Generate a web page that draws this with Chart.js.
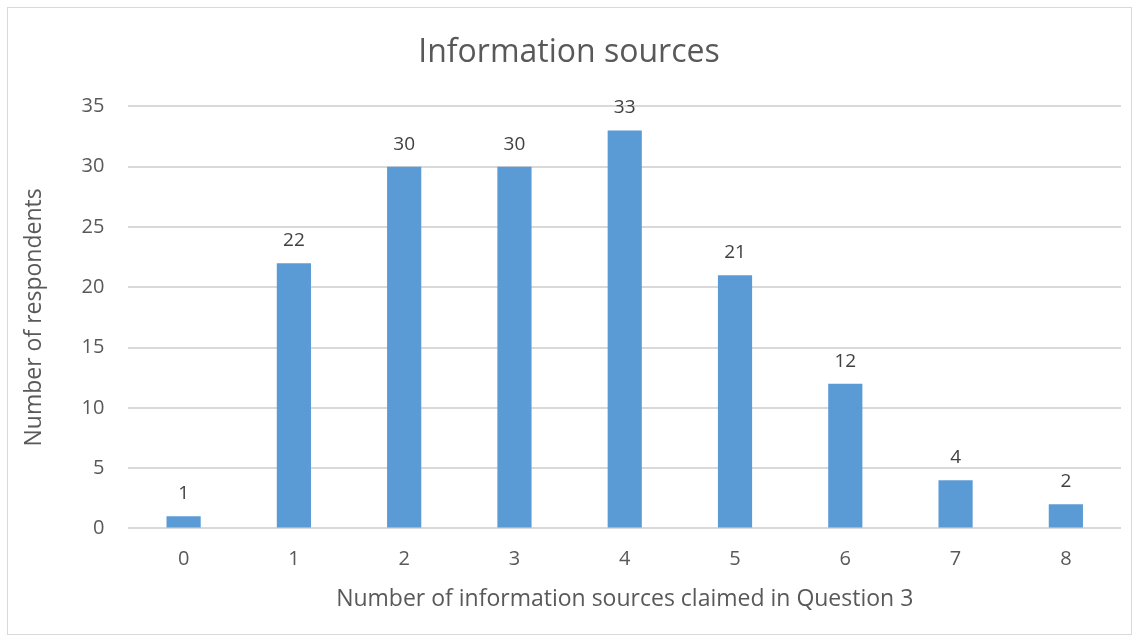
<!DOCTYPE html>
<html>
<head>
<meta charset="utf-8">
<script src="https://cdn.jsdelivr.net/npm/chart.js"></script>
<style>
  body { margin: 0; background: #fff; }
  #wrap { position: absolute; left: 7px; top: 7px; width: 1123px; height: 626px; border: 1px solid #d9d9d9; }
</style>
</head>
<body>
<div id="wrap"><canvas id="barchart"></canvas></div>
<script>
const categories = ['0', '1', '2', '3', '4', '5', '6', '7', '8'];
const respondents = [1, 22, 30, 30, 33, 21, 12, 4, 2];

const textGray = '#595959';
const fontName = '"Open Sans", "Noto Sans", sans-serif';

// value labels above each bar
const barLabels = {
  id: 'barLabels',
  afterDatasetsDraw(chart) {
    const c = chart.ctx;
    const meta = chart.getDatasetMeta(0);
    c.save();
    c.fillStyle = '#404040';
    c.font = '19px ' + fontName;
    c.textAlign = 'center';
    c.textBaseline = 'bottom';
    meta.data.forEach((bar, i) => {
      c.fillText(respondents[i], bar.x, bar.y - 13);
    });
    c.restore();
  }
};

const ctx = document.getElementById('barchart');

new Chart(ctx, {
  type: 'bar',
  data: {
    labels: categories,
    datasets: [{
      data: respondents,
      backgroundColor: '#5b9bd5',
      barPercentage: 0.62,
      categoryPercentage: 0.5
    }]
  },
  options: {
    responsive: true,
    maintainAspectRatio: false,
    animation: false,
    layout: { padding: { left: 9, right: 10, top: 26, bottom: 17 } },
    plugins: {
      legend: { display: false },
      tooltip: { enabled: false },
      title: {
        display: true,
        text: 'Information sources',
        color: textGray,
        font: { family: fontName, size: 32, weight: 'normal' },
        padding: { top: 0, bottom: 34 }
      }
    },
    scales: {
      x: {
        grid: { display: false },
        border: { display: false },
        ticks: { color: textGray, font: { family: fontName, size: 20 }, padding: 11 },
        title: {
          display: true,
          text: 'Number of information sources claimed in Question 3',
          color: textGray,
          font: { family: fontName, size: 23 },
          padding: { top: 3 }
        }
      },
      y: {
        min: 0,
        max: 35,
        grid: { color: '#d9d9d9', lineWidth: 2, drawTicks: false },
        border: { display: false },
        ticks: { stepSize: 5, color: textGray, font: { family: fontName, size: 20 }, padding: 24 },
        title: {
          display: true,
          text: 'Number of respondents',
          color: textGray,
          font: { family: fontName, size: 23 },
          padding: { bottom: 9 }
        }
      }
    }
  },
  plugins: [barLabels]
});
</script>
</body>
</html>
